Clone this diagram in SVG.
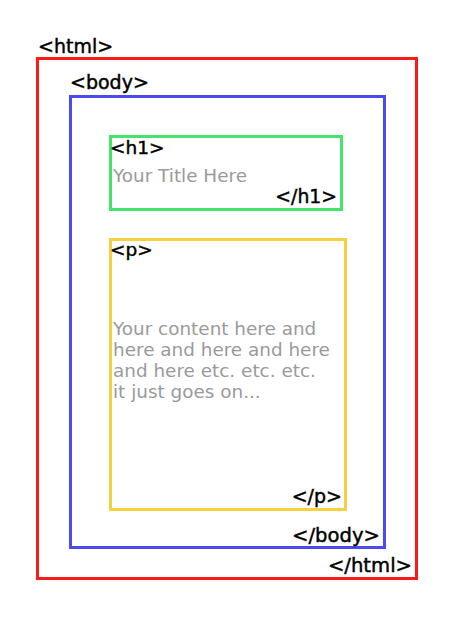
<svg xmlns="http://www.w3.org/2000/svg" width="450" height="638" viewBox="0 0 450 638">
<style>
.box{fill:none;stroke-width:3}
.tag{font-family:"DejaVu Sans","Liberation Sans",sans-serif;font-size:18.5px;fill:#000;stroke:#000;stroke-width:0.45px}
.big{font-size:19px}
.bigc{font-size:19.6px}
.txt{font-family:"DejaVu Sans","Liberation Sans",sans-serif;font-size:18.4px;fill:#9a9a9a}
.end{text-anchor:end}
</style>
<rect width="450" height="638" fill="#fff"/>
<g id="html">
<rect class="box" x="37.5" y="58.5" width="379" height="520" stroke="#ff1a1a"/>
<text class="tag big" x="38" y="53">&lt;html&gt;</text>
<text class="tag bigc end" x="412" y="572">&lt;/html&gt;</text>
</g>
<g id="body">
<rect class="box" x="70.5" y="96.5" width="314" height="451" stroke="#4a4af0"/>
<text class="tag big" x="70" y="89">&lt;body&gt;</text>
<text class="tag bigc end" x="380" y="542">&lt;/body&gt;</text>
</g>
<g id="h1">
<rect class="box" x="110.5" y="136.5" width="231" height="73" stroke="#44e46c"/>
<text class="tag" x="110" y="154">&lt;h1&gt;</text>
<text class="txt" x="113" y="182">Your Title Here</text>
<text class="tag end" x="337" y="203" style="font-size:18.8px">&lt;/h1&gt;</text>
</g>
<g id="p">
<rect class="box" x="110.5" y="239.5" width="235" height="270" stroke="#f5d142"/>
<text class="tag" x="110" y="256">&lt;p&gt;</text>
<text class="txt" x="113" y="335">Your content here and</text>
<text class="txt" x="113" y="356">here and here and here</text>
<text class="txt" x="113" y="377">and here etc. etc. etc.</text>
<text class="txt" x="113" y="398">it just goes on...</text>
<text class="tag end" x="342" y="503" style="font-size:19px">&lt;/p&gt;</text>
</g>
<g id="connectors"></g>
</svg>
